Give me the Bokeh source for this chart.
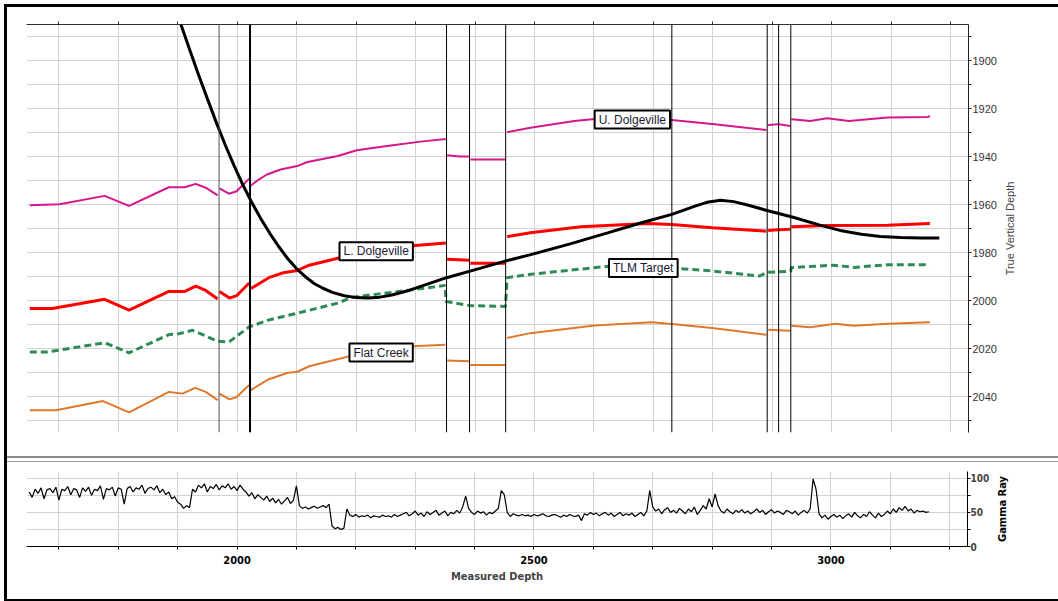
from bokeh.plotting import figure
from bokeh.models import (Range1d, FixedTicker, Span, Label, Spacer)
from bokeh.layouts import column, row
from bokeh.embed import file_html
from bokeh.resources import INLINE

NaN = float("nan")

# ---------------- data ----------------
# U. Dolgeville horizon (measured depth, true vertical depth)
udol_md = [1651, 1701, 1777, 1818, 1885, 1912, 1930, 1947, 1967, NaN,
           1970, 1986, 1999, 2020, NaN,
           2023, 2036, 2050, 2073, 2101, 2118, 2169, 2201, 2255, 2312, 2351, NaN,
           2353, 2374, 2391, NaN, 2392, 2451, NaN,
           2454, 2493, 2567, 2601, 2731, 2799, 2890, NaN,
           2893, 2910, NaN, 2911, 2930, NaN,
           2932, 2964, 2992, 3029, 3094, 3162, 3165]
udol_tvd = [1960.3, 1959.9, 1956.4, 1960.6, 1952.8, 1952.8, 1951.4, 1953.0, 1956.2, NaN,
            1953.3, 1955.5, 1954.5, 1949.2, NaN,
            1952.1, 1949.6, 1947.5, 1945.4, 1944.0, 1942.3, 1939.8, 1937.4, 1935.5, 1933.7, 1932.7, NaN,
            1939.5, 1940.0, 1940.0, NaN, 1941.2, 1941.2, NaN,
            1929.9, 1928.0, 1925.2, 1924.4, 1924.8, 1926.5, 1929.0, NaN,
            1926.9, 1926.6, NaN, 1926.6, 1927.3, NaN,
            1924.5, 1925.2, 1924.1, 1925.2, 1923.8, 1923.5, 1923.1]

# L. Dolgeville horizon
ldol_md = [1651, 1689, 1777, 1818, 1885, 1912, 1930, 1947, 1967, NaN,
           1970, 1987, 1999, 2020, NaN,
           2023, 2053, 2078, 2101, 2121, 2169, 2295, 2351, NaN,
           2353, 2391, NaN, 2392, 2451, NaN,
           2454, 2493, 2578, 2691, 2731, 2799, 2890, NaN,
           2893, 2910, NaN, 2911, 2930, NaN,
           2932, 2991, 3094, 3165]
ldol_tvd = [2003.3, 2003.3, 1999.5, 2004.0, 1996.2, 1996.2, 1994.0, 1995.8, 1999.4, NaN,
            1996.2, 1999.0, 1998.0, 1992.7, NaN,
            1995.0, 1990.5, 1988.4, 1987.5, 1985.3, 1982.4, 1977.2, 1976.0, NaN,
            1982.8, 1983.2, NaN, 1984.5, 1984.5, NaN,
            1973.4, 1971.8, 1969.3, 1967.9, 1968.3, 1969.7, 1971.1, NaN,
            1970.8, 1970.5, NaN, 1970.5, 1970.3, NaN,
            1969.3, 1968.8, 1968.6, 1967.9]

# TLM Target
tlm_md = [1651, 1680, 1777, 1818, 1885, 1899, 1925, 1967, 1986, 2020, 2053, 2101,
          2169, 2192, 2283, 2350, 2351, 2391, 2451, 2454, 2493, 2629, 2731, 2799,
          2879, 2891, 2931, 2932, 3003, 3037, 3094, 3165]
tlm_tvd = [2021.5, 2021.5, 2017.6, 2021.8, 2014.2, 2014.0, 2012.4, 2017.0, 2017.3, 2011.0,
           2008.1, 2005.3, 2001.1, 1998.7, 1995.9, 1993.7, 2000.4, 2002.1, 2002.5, 1990.5,
           1989.1, 1985.6, 1986.5, 1987.7, 1989.8, 1988.3, 1987.8, 1986.3, 1985.3, 1986.2,
           1985.1, 1985.1]

# Flat Creek
flat_md = [1651, 1695, 1774, 1818, 1885, 1908, 1929, 1947, 1967, NaN,
           1970, 1987, 1999, 2020, NaN,
           2023, 2053, 2084, 2101, 2121, 2189, 2295, 2350, NaN,
           2353, 2391, NaN, 2392, 2451, NaN,
           2454, 2493, 2601, 2697, 2731, 2799, 2890, NaN,
           2893, 2910, NaN, 2911, 2930, NaN,
           2932, 2964, 3006, 3037, 3094, 3165]
flat_tvd = [2045.7, 2045.7, 2041.9, 2046.6, 2038.1, 2038.8, 2036.4, 2038.1, 2041.5, NaN,
            2038.8, 2041.2, 2040.2, 2035.2, NaN,
            2037.3, 2032.8, 2030.2, 2029.7, 2027.4, 2023.2, 2019.1, 2018.4, NaN,
            2025.0, 2025.3, NaN, 2026.9, 2026.9, NaN,
            2015.6, 2013.6, 2010.4, 2009.1, 2009.8, 2011.5, 2014.3, NaN,
            2012.2, 2012.4, NaN, 2012.4, 2012.6, NaN,
            2010.5, 2011.1, 2009.7, 2010.5, 2009.7, 2009.1]

# Well path
well_md = [1895, 1905, 1920, 1935, 1950, 1965, 1980, 1995, 2010, 2025, 2040, 2055,
           2070, 2085, 2100, 2115, 2130, 2145, 2160, 2180, 2200, 2220, 2240, 2260,
           2290, 2352, 2408, 2452, 2492, 2560, 2623, 2680, 2731, 2770, 2790, 2813,
           2835, 2860, 2891, 2935, 2980, 3014, 3050, 3082, 3116, 3150, 3181]
well_tvd = [1877.6, 1884.8, 1895.5, 1906.0, 1916.1, 1926.0, 1935.3, 1944.0, 1952.1, 1959.4,
            1966.1, 1972.1, 1977.6, 1982.6, 1986.8, 1990.2, 1993.0, 1995.0, 1996.6, 1998.0,
            1998.8, 1999.0, 1998.6, 1997.7, 1995.7, 1990.5, 1986.6, 1983.5, 1981.0, 1976.4,
            1971.8, 1967.6, 1964.1, 1960.7, 1959.1, 1958.2, 1958.8, 1960.3, 1962.5, 1965.3,
            1968.6, 1970.8, 1972.4, 1973.3, 1973.8, 1974.0, 1974.0]

# Fault / section markers (measured depth)
marker_md = [1969.4, 2021.5, 2352, 2390.7, 2451.5, 2731, 2891.4, 2910.6, 2931.1]

# Horizon labels
label_text = ["U. Dolgeville", "L. Dolgeville", "TLM Target", "Flat Creek"]
label_md = [2664.6, 2233.7, 2683.0, 2242.0]
label_tvd = [1924.6, 1979.5, 1986.5, 2021.7]

# Gamma ray log, sampled every 5 of measured depth from 1650
gr_start = 1650
gr_step = 5
gamma_ray = [
    80, 72, 84, 78, 86, 70, 83, 85, 79, 87,
    68, 84, 82, 88, 76, 85, 83, 72, 86, 81,
    87, 75, 84, 82, 89, 69, 85, 83, 87, 74,
    86, 84, 62, 85, 88, 80, 86, 84, 90, 78,
    85, 87, 83, 89, 79,
    84, 76, 80, 70, 73, 65, 62, 56, 60, 57,
    84, 80, 90, 86, 92, 80, 88, 85, 91, 83, 89, 86, 92, 84, 88, 82, 90, 84,
    80, 74, 79, 70, 76, 72, 68, 74, 66, 71, 64, 69, 62, 67, 72, 63, 68,
    89,
    60, 56, 58, 55, 57, 59, 56, 58, 60, 57, 62,
    30, 26, 28, 25, 27,
    55, 46, 44, 47, 43, 45, 44, 46, 42, 45, 44, 43, 46, 44, 45, 43, 47, 44, 46, 48,
    50, 45, 48, 52, 46, 49, 44, 51, 47, 50, 53, 46, 49, 52, 45, 50, 48, 53, 49, 58,
    74,
    56, 50, 47, 52, 49, 51, 46, 50, 48, 52, 56,
    82, 76,
    50, 44, 48, 46, 45, 47, 45, 46, 44, 47, 45, 46, 48, 45, 44, 46, 47, 45, 43, 46, 44, 47, 45, 44, 46,
    38,
    48, 46, 50, 47, 49, 45, 48, 50, 46, 49, 44, 47, 50, 45, 48, 46, 49, 44, 47, 50, 45, 52,
    82,
    58, 52, 55, 48, 54, 57, 50, 53, 49, 56, 52, 48, 55, 51, 58, 47, 53, 60, 55,
    70, 58, 77, 60,
    52, 49, 55, 51, 48, 53, 50, 54, 49, 52, 48, 51, 55, 50, 53, 47, 51, 54, 49, 52,
    50, 47, 53, 51, 48, 52, 46, 50, 53, 49, 55,
    99, 84,
    48, 42, 46, 40, 44,
    47, 43, 46, 41, 45, 48, 43, 50, 45, 42, 47, 44, 51, 46, 42, 49, 44, 47, 52, 48,
    55, 50, 57, 53, 59, 52, 55, 49, 53, 51, 52, 50, 51,
]
gr_md = [gr_start + gr_step * i for i in range(len(gamma_ray))]

tvd_major = [1900, 1920, 1940, 1960, 1980, 2000, 2020, 2040]
tvd_minor = [1890, 1910, 1930, 1950, 1970, 1990, 2010, 2030, 2050]
md_grid = [1700, 1800, 1900, 2000, 2100, 2200, 2300, 2400, 2500, 2600, 2700, 2800,
           2900, 3000, 3100, 3200]
md_major = [2000, 2500, 3000]
md_minor = [1700, 1800, 1900, 2100, 2200, 2300, 2400, 2600, 2700, 2800, 2900, 3100, 3200]
gr_major = [0, 50, 100]
gr_minor = [25, 75]

# ---------------- styling ----------------
FONT = "Liberation Sans"
NARROW = "'Liberation Sans Narrow', 'DejaVu Sans Condensed', 'Liberation Sans', sans-serif"
GRID = "#d2d2d2"

x_range = Range1d(1645.5, 3230)


def bar(w, h, color):
    return Spacer(width=w, height=h, styles={"background-color": color})


def title_strip(width, height, top, bottom, left, text, font, style, color):
    """Narrow figure holding only a left-side axis title (reads bottom-to-top)."""
    f = figure(width=width, height=height, x_range=Range1d(0, 1), y_range=Range1d(0, 1),
               x_axis_location=None, y_axis_location="left",
               output_backend="svg", toolbar_location=None,
               min_border_left=left, min_border_right=0, min_border_top=top,
               min_border_bottom=bottom)
    f.outline_line_color = None
    f.xgrid.visible = False
    f.ygrid.visible = False
    a = f.yaxis[0]
    a.ticker = FixedTicker(ticks=[-5], minor_ticks=[])
    a.axis_line_color = None
    a.major_tick_line_color = None
    a.minor_tick_line_color = None
    a.major_label_standoff = 0
    a.axis_label = text
    a.axis_label_text_font = font
    a.axis_label_text_font_style = style
    a.axis_label_text_font_size = "11px"
    a.axis_label_text_color = color
    a.axis_label_standoff = 0
    f.scatter([0.5], [0.5], size=0, alpha=0)
    return f


# ---------------- top panel ----------------
p1 = figure(width=993, height=449, x_range=x_range, y_range=Range1d(2055, 1885),
            x_axis_location="above", y_axis_location="right",
            output_backend="svg", toolbar_location=None,
            min_border_left=19, min_border_right=32, min_border_top=17, min_border_bottom=24)
p1.outline_line_color = None

xt1 = FixedTicker(ticks=md_grid, minor_ticks=[])
ax = p1.xaxis[0]
ax.ticker = xt1
ax.major_label_overrides = {t: "" for t in md_grid}
ax.major_label_standoff = 0
ax.major_tick_out = 3
ax.major_tick_in = 0
ax.axis_line_color = "#303030"
ax.major_tick_line_color = "#303030"
p1.xgrid.ticker = xt1
p1.xgrid.grid_line_color = GRID

yt1 = FixedTicker(ticks=tvd_major, minor_ticks=tvd_minor)
ay = p1.yaxis[0]
ay.ticker = yt1
ay.major_tick_out = 3
ay.major_tick_in = 0
ay.minor_tick_out = 3
ay.minor_tick_in = 0
ay.axis_line_color = "#202020"
ay.major_tick_line_color = "#202020"
ay.minor_tick_line_color = "#202020"
ay.major_label_text_font = FONT
ay.major_label_text_font_size = "11px"
ay.major_label_text_color = "#333333"
ay.major_label_standoff = 1
p1.ygrid.ticker = yt1
p1.ygrid.grid_line_color = GRID
p1.ygrid.minor_grid_line_color = GRID

p1.line(udol_md, udol_tvd, line_color="#d4188c", line_width=2)
p1.line(ldol_md, ldol_tvd, line_color="#ff0000", line_width=3)
p1.line(tlm_md, tlm_tvd, line_color="#2e8b57", line_width=3, line_dash="7 4")
p1.line(flat_md, flat_tvd, line_color="#e0782c", line_width=2)
p1.line(well_md, well_tvd, line_color="black", line_width=3)

for i, m in enumerate(marker_md):
    if i == 0:
        col, w = "#505050", 1
    elif i == 1:
        col, w = "black", 2
    else:
        col, w = "black", 1
    p1.add_layout(Span(location=m, dimension="height", line_color=col, line_width=w))

for t, x, y in zip(label_text, label_md, label_tvd):
    p1.add_layout(Label(x=x, y=y, text=t, text_align="center", text_baseline="middle",
                        text_font=FONT, text_font_size="12px", text_color="#1a1a33",
                        background_fill_color="white", border_line_color="black",
                        border_line_width=2,
                        padding=dict(left=4, right=4, top=2, bottom=2)))

tvd_title = title_strip(58, 449, 17, 24, 6, "True Vertical Depth", FONT, "normal", "#444444")

# ---------------- bottom panel ----------------
p2 = figure(width=985, height=137, x_range=x_range, y_range=Range1d(0, 110),
            y_axis_location="right", output_backend="svg", toolbar_location=None,
            min_border_left=19, min_border_right=24, min_border_top=9, min_border_bottom=53)
p2.outline_line_color = None

xt2 = FixedTicker(ticks=md_major, minor_ticks=md_minor)
bx = p2.xaxis[0]
bx.ticker = xt2
bx.major_tick_out = 3
bx.major_tick_in = 0
bx.minor_tick_out = 3
bx.minor_tick_in = 0
bx.axis_line_color = "black"
bx.major_label_text_font = NARROW
bx.major_label_text_font_style = "bold"
bx.major_label_text_font_size = "11px"
bx.major_label_text_color = "black"
bx.major_label_standoff = 6
bx.axis_label = "Measured Depth"
bx.axis_label_text_font = NARROW
bx.axis_label_text_font_style = "bold"
bx.axis_label_text_font_size = "11px"
bx.axis_label_standoff = 3
p2.xgrid.ticker = xt2
p2.xgrid.grid_line_color = GRID
p2.xgrid.minor_grid_line_color = GRID

yt2 = FixedTicker(ticks=gr_major, minor_ticks=gr_minor)
by = p2.yaxis[0]
by.ticker = yt2
by.major_tick_out = 3
by.major_tick_in = 0
by.minor_tick_out = 3
by.minor_tick_in = 0
by.axis_line_color = "black"
by.major_label_text_font = NARROW
by.major_label_text_font_style = "bold"
by.major_label_text_font_size = "10px"
by.major_label_standoff = 0
p2.ygrid.ticker = yt2
p2.ygrid.grid_line_color = GRID
p2.ygrid.minor_grid_line_color = GRID

p2.line(gr_md, gamma_ray, line_color="black", line_width=1.2)

gr_title = title_strip(66, 137, 9, 53, 7, "Gamma Ray", NARROW, "bold", "black")

# ---------------- window frame ----------------
layout = column(
    Spacer(width=1058, height=4),
    row(Spacer(width=4, height=3), bar(1054, 3, "black")),
    row(Spacer(width=4, height=449), bar(3, 449, "black"), p1, tvd_title),
    row(Spacer(width=4, height=2), bar(3, 2, "black"), bar(1051, 2, "#8a8a8a")),
    row(Spacer(width=4, height=3), bar(3, 3, "black"), Spacer(width=1051, height=3)),
    row(Spacer(width=4, height=1), bar(3, 1, "black"), bar(1051, 1, "#a0a0a0")),
    row(Spacer(width=4, height=137), bar(3, 137, "black"), p2, gr_title),
    row(Spacer(width=4, height=2), bar(1054, 2, "black")),
)
open("out.html", "w").write(file_html(layout, INLINE))
